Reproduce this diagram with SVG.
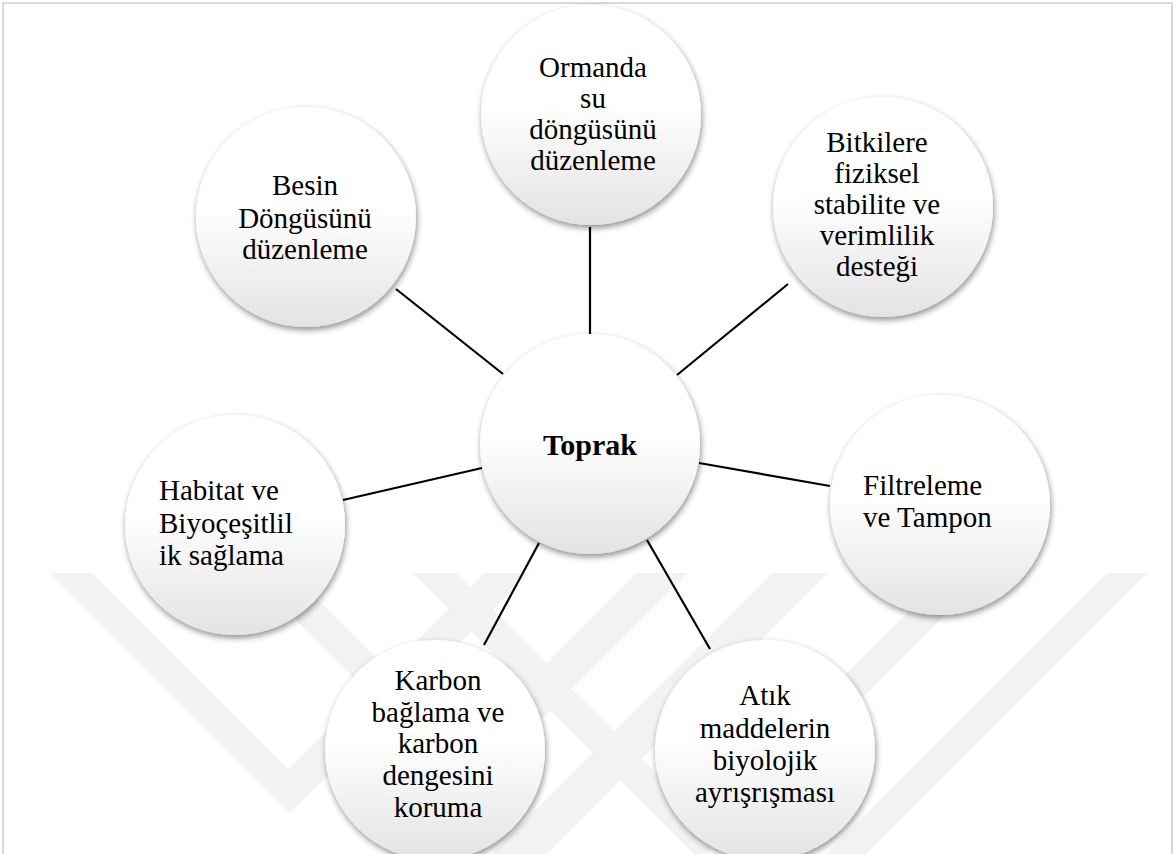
<svg xmlns="http://www.w3.org/2000/svg" width="1176" height="854" viewBox="0 0 1176 854">
  <defs>
    <linearGradient id="ball" x1="0" y1="0" x2="0" y2="1">
      <stop offset="0" stop-color="#ffffff"/>
      <stop offset="0.45" stop-color="#ffffff"/>
      <stop offset="1" stop-color="#e3e3e3"/>
    </linearGradient>
    <filter id="shadow" x="-20%" y="-20%" width="140%" height="140%">
      <feGaussianBlur in="SourceAlpha" stdDeviation="3"/>
      <feOffset dx="1" dy="3" result="b"/>
      <feComponentTransfer><feFuncA type="linear" slope="0.45"/></feComponentTransfer>
      <feMerge><feMergeNode/><feMergeNode in="SourceGraphic"/></feMerge>
    </filter>
    <style>
      .node circle { fill: url(#ball); filter: url(#shadow); }
      .node text { font-family: "Liberation Serif", "Times New Roman", serif; font-size: 29px; fill: #000; }
      .c { text-anchor: middle; }
      .l { text-anchor: start; }
      .hub text { font-weight: bold; font-size: 30px; }
      .edge { stroke: #000; stroke-width: 2.2; }
      .mark { fill: #f2f2f2; }
    </style>
  </defs>

  <rect x="0" y="0" width="1176" height="854" fill="#ffffff"/>

  <!-- faint background emblem: chevron stripes -->
  <g id="emblem">
    <polygon class="mark" points="50,573 290,813 530,573 485,573 288.5,769.5 92,573"/>
    <polygon class="mark" points="249,573 468.5,792.5 688,573 637,573 464,746 291,573"/>
    <polygon class="mark" points="413,573 700,860 987,573 947,573 701.5,818.5 456,573"/>
    <polygon class="mark" points="773,573 828,573 547,854 492,854"/>
    <polygon class="mark" points="1107,573 1147,573 866,854 826,854"/>
  </g>

  <!-- page frame -->
  <rect x="3" y="3" width="1169" height="880" fill="none" stroke="#d9d9d9" stroke-width="2"/>

  <g id="connectors">
    <line class="edge" x1="396" y1="289" x2="503" y2="374"/>
    <line class="edge" x1="590" y1="227" x2="590" y2="335"/>
    <line class="edge" x1="788" y1="284" x2="677" y2="375"/>
    <line class="edge" x1="343" y1="500" x2="482" y2="468"/>
    <line class="edge" x1="699" y1="463" x2="830" y2="486"/>
    <line class="edge" x1="484" y1="645" x2="539" y2="543"/>
    <line class="edge" x1="710" y1="649" x2="647" y2="540"/>
  </g>

  <g id="node-toprak" class="node hub">
    <circle cx="590" cy="444" r="110"/>
    <text class="c" x="590" y="455">Toprak</text>
  </g>

  <g id="node-ormanda" class="node">
    <circle cx="591" cy="115" r="110"/>
    <text class="c" x="593" y="77">Ormanda</text>
    <text class="c" x="593" y="108">su</text>
    <text class="c" x="593" y="139">döngüsünü</text>
    <text class="c" x="593" y="170">düzenleme</text>
  </g>

  <g id="node-bitkiler" class="node">
    <circle cx="883" cy="207" r="110"/>
    <text class="c" x="877" y="152">Bitkilere</text>
    <text class="c" x="877" y="183">fiziksel</text>
    <text class="c" x="877" y="214">stabilite ve</text>
    <text class="c" x="877" y="245">verimlilik</text>
    <text class="c" x="877" y="276">desteği</text>
  </g>

  <g id="node-filtreleme" class="node">
    <circle cx="940" cy="505" r="110"/>
    <text class="l" x="863" y="495">Filtreleme</text>
    <text class="l" x="863" y="527">ve Tampon</text>
  </g>

  <g id="node-atik" class="node">
    <circle cx="765" cy="750" r="110"/>
    <text class="c" x="765" y="705">Atık</text>
    <text class="c" x="765" y="738">maddelerin</text>
    <text class="c" x="765" y="770">biyolojik</text>
    <text class="c" x="765" y="802">ayrışrışması</text>
  </g>

  <g id="node-karbon" class="node">
    <circle cx="435" cy="750" r="110"/>
    <text class="c" x="438" y="690">Karbon</text>
    <text class="c" x="438" y="722">bağlama ve</text>
    <text class="c" x="438" y="753">karbon</text>
    <text class="c" x="438" y="785">dengesini</text>
    <text class="c" x="438" y="817">koruma</text>
  </g>

  <g id="node-habitat" class="node">
    <circle cx="235" cy="525" r="110"/>
    <text class="l" x="159" y="500">Habitat ve</text>
    <text class="l" x="159" y="533">Biyoçeşitlil</text>
    <text class="l" x="159" y="565">ik sağlama</text>
  </g>

  <g id="node-besin" class="node">
    <circle cx="306" cy="217" r="110"/>
    <text class="c" x="305" y="195">Besin</text>
    <text class="c" x="305" y="228">Döngüsünü</text>
    <text class="c" x="305" y="259">düzenleme</text>
  </g>
</svg>
